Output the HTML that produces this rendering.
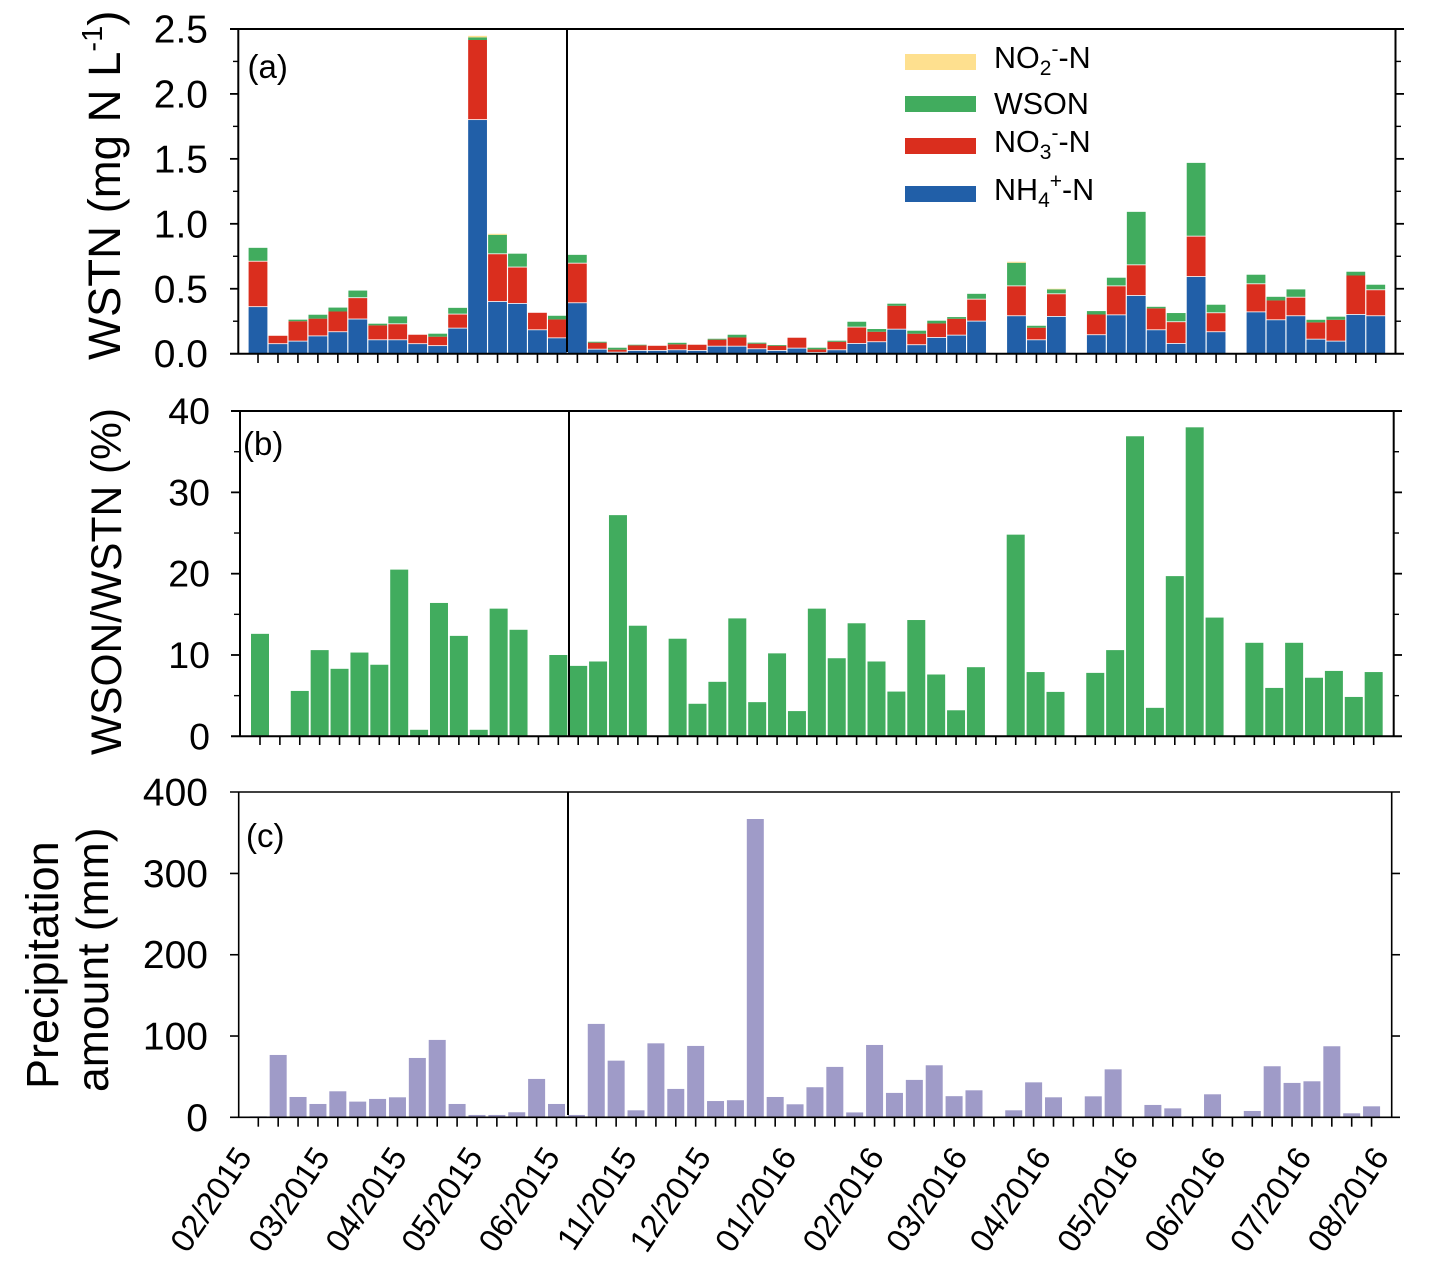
<!DOCTYPE html>
<html lang="en">
<head>
<meta charset="utf-8">
<title>WSTN, WSON/WSTN and precipitation</title>
<style>
html,body{margin:0;padding:0;background:#fff;}
svg{display:block;}
text{font-family:"Liberation Sans",sans-serif;fill:#000;}
</style>
</head>
<body>
<svg id="chart" xmlns="http://www.w3.org/2000/svg" width="1456" height="1278" viewBox="0 0 1456 1278">
  <g id="panel-a-marks"></g>
  <g id="panel-b-marks"></g>
  <g id="panel-c-marks"></g>
  <g id="axes"></g>

  <text transform="translate(120,360) rotate(-90)" font-size="45.5">WSTN (mg N L<tspan font-size="29" dy="-18">-1</tspan><tspan dy="18">)</tspan></text>
  <text transform="translate(121,755) rotate(-90)" font-size="42.5">WSON/WSTN (%)</text>
  <text transform="translate(58,1089) rotate(-90)" font-size="45">Precipitation</text>
  <text transform="translate(108,1092) rotate(-90)" font-size="44.5">amount (mm)</text>

  <text x="247.5" y="78" font-size="33">(a)</text>
  <text x="243" y="455" font-size="33">(b)</text>
  <text x="246" y="847" font-size="33">(c)</text>

  <g>
    <rect x="905" y="54" width="71" height="16" fill="#FEE08F"/>
    <text x="994" y="68" font-size="30.5">NO<tspan font-size="21" dy="7">2</tspan><tspan font-size="21" dy="-19">-</tspan><tspan dy="12">-N</tspan></text>
    <rect x="905" y="96" width="71" height="16" fill="#41AC5E"/>
    <text x="994" y="114" font-size="30.5">WSON</text>
    <rect x="905" y="138" width="71" height="16" fill="#DA2E1E"/>
    <text x="994" y="152" font-size="30.5">NO<tspan font-size="21" dy="7">3</tspan><tspan font-size="21" dy="-19">-</tspan><tspan dy="12">-N</tspan></text>
    <rect x="905" y="186" width="71" height="16" fill="#215FA8"/>
    <text x="994" y="200" font-size="30.5">NH<tspan font-size="21" dy="7">4</tspan><tspan font-size="21" dy="-19">+</tspan><tspan dy="12">-N</tspan></text>
  </g>
</svg>
<script>
// ---- data (one entry per sampling period) ----
const nh4 = [.365,.08,.1,.14,.172,.27,.11,.11,.08,.065,.2,1.805,.405,.39,.187,.125,.395,.038,.015,.028,.028,.033,.028,.061,.061,.041,.028,.046,.013,.033,.082,.095,.192,.072,.128,.146,.254,0,.295,.11,.29,0,.149,.302,.451,.187,.082,.597,.172,0,.325,.264,.295,.115,.1,.305,.295];
const no3 = [.35,.058,.15,.13,.153,.164,.108,.123,.066,.066,.108,.61,.367,.28,.128,.139,.305,.047,.016,.036,.033,.039,.041,.047,.064,.036,.033,.077,.02,.059,.126,.074,.177,.082,.105,.123,.169,0,.23,.09,.174,0,.153,.223,.236,.162,.167,.311,.146,0,.216,.146,.143,.126,.161,.297,.20];
const wson = [.10,0,.012,.03,.03,.052,.013,.054,0,.023,.045,.02,.143,.10,0,.028,.061,.007,.015,.005,0,.012,0,.007,.021,.008,.006,0,.013,.008,.038,.021,.016,.023,.021,.013,.038,0,.175,.015,.031,0,.026,.06,.405,.012,.064,.561,.059,0,.067,.028,.057,.02,.024,.029,.036];
const no2 = [0,0,0,0,0,0,0,0,0,0,0,.012,.008,0,0,0,0,0,0,0,0,0,0,0,0,0,0,0,0,0,0,0,0,0,0,0,0,0,.008,0,.005,0,0,0,0,0,0,0,0,0,0,0,0,0,0,0,0];
const ratio = [12.6,0,5.58,10.6,8.3,10.3,8.8,20.5,.8,16.4,12.35,.8,15.7,13.1,0,10,8.66,9.2,27.2,13.6,0,12,4,6.7,14.5,4.2,10.2,3.1,15.7,9.6,13.9,9.2,5.5,14.3,7.6,3.2,8.5,0,24.8,7.9,5.46,0,7.8,10.6,36.9,3.5,19.7,38,14.6,0,11.5,5.95,11.5,7.2,8.04,4.84,7.9];
const precip = [1.2,76.7,25,16.4,32,19.3,22.6,24.6,73,95.2,16.4,2.9,2.9,6.2,47.2,16.4,2.9,114.9,69.7,8.6,91,34.9,87.8,20,21,367,25,16,37,62,6,89,30,46,64,26,33.2,0,8.6,43,24.6,0,25.8,59,0,15.2,11,1.2,28.3,0,7.8,62.8,42.3,44.3,87.4,4.9,13.5];
const ticksA = ["0.0","0.5","1.0","1.5","2.0","2.5"];
const ticksB = ["0","10","20","30","40"];
const ticksC = ["0","100","200","300","400"];
const monthLabels = ["02/2015","03/2015","04/2015","05/2015","06/2015","11/2015","12/2015","01/2016","02/2016","03/2016","04/2016","05/2016","06/2016","07/2016","08/2016"];
const monthLabelSlots = [0,3.92,7.8,11.62,15.5,19.37,23.1,27.4,31.8,36,40.2,44.6,49,53.3,57.2];

// ---- axis functions ----
const NS = "http://www.w3.org/2000/svg";
const xA = i => 258 + i * 19.96;
const yA = v => 353.7 - v * 129.9;
const xB = i => 260 + i * 19.887;
const yB = v => 736.3 - v * 8.131;
const xC = i => 258.3 + i * 19.88;
const yC = v => 1117.3 - v * 0.8128;
const xLabel = s => 253 + s * 19.88;

const axes = document.getElementById("axes");
const mA = document.getElementById("panel-a-marks");
const mB = document.getElementById("panel-b-marks");
const mC = document.getElementById("panel-c-marks");

function mk(tag, parent, attrs) {
  const el = document.createElementNS(NS, tag);
  for (const k in attrs) el.setAttribute(k, attrs[k]);
  parent.appendChild(el);
  return el;
}
function seg(parent, x, w, v0, v1, yFn, fill, sep) {
  if (v1 <= v0) return null;
  const top = yFn(v1), bot = yFn(v0);
  return mk("rect", parent, {x: x, y: top + (sep ? 0.8 : 0), width: w, height: Math.max(0.6, bot - top - (sep ? 0.8 : 0)), fill: fill});
}

// panel a: stacked bars
nh4.forEach((v, i) => {
  const x = xA(i) - 9.4, w = 18.8;
  const a = v, b = a + no3[i], c = b + wson[i], d = c + no2[i];
  const r1 = seg(mA, x, w, 0, a, yA, "#215FA8", true);


  const r2 = seg(mA, x, w, a, b, yA, "#DA2E1E", wson[i] > 0.03);


  const r3 = seg(mA, x, w, b, c, yA, "#41AC5E", false);


  const r4 = seg(mA, x, w, c, d, yA, "#FEE08F", false);


});

// panel b: ratio bars
ratio.forEach((v, i) => {
  const r = seg(mB, xB(i) - 9, 18, 0, v, yB, "#41AC5E", false);


});

// panel c: precipitation bars
precip.forEach((v, i) => {
  const r = seg(mC, xC(i) - 8.5, 17, 0, v, yC, "#9F9BC8", false);


});

// frames and ticks
function line(x1, y1, x2, y2, sw, name) {
  const l = mk("line", axes, {x1: x1, y1: y1, x2: x2, y2: y2, stroke: "#000", "stroke-width": sw});
  
  
  return l;
}
function frame(left, right, top, base, outL, outR, sw, key, divider, divBottom) {
  line(outL, top, outR, top, sw, "top-axis-" + key);
  line(outL, base, outR, base, sw, "x-axis-" + key);
  line(left, top, left, base, sw, "y-axis-left-" + key);
  line(right, top, right, base, sw, "y-axis-right-" + key);
  line(divider, top, divider, divBottom, 2, "period-divider-" + key);
}
frame(238.3, 1395.5, 29, 353.7, 230, 1404, 2, "a", 567, 352);
frame(240, 1393.7, 411, 736.3, 231, 1402, 2, "b", 569, 736);
frame(238.7, 1391.7, 792, 1117.3, 230, 1400, 1.6, "c", 568, 1115);

for (let i = 0; i < nh4.length; i++) {
  line(xA(i), 354, xA(i), 363, 1.6, "x-tick-a");
  line(xB(i), 736, xB(i), 745, 1.6, "x-tick-b");
  line(xC(i), 1117, xC(i), 1126.7, 1.6, "x-tick-c");
}

function yLabel(t, x, y, size, name) {
  const el = mk("text", axes, {x: x, y: y, "font-size": size, "text-anchor": "end"});
  el.textContent = t;
  
  
}

ticksA.forEach((t, i) => {
  const y = yA(parseFloat(t));
  yLabel(t, 208, y + 13.5, 39, "y-tick-label-a");
  if (i > 0 && i < ticksA.length - 1) {
    line(230, y, 238, y, 1.8, "y-tick-a");
    line(1395, y, 1404, y, 1.8, "y-tick-right-a");
  }
  if (i < ticksA.length - 1) {
    const ym = yA(parseFloat(t) + 0.25);
    line(233, ym, 238, ym, 1.4, "y-minor-tick-a");
    line(1395, ym, 1401, ym, 1.4, "y-minor-tick-right-a");
  }
});
ticksB.forEach((t, i) => {
  const y = yB(parseFloat(t));
  yLabel(t, 210, y + 13, 37.5, "y-tick-label-b");
  if (i > 0 && i < ticksB.length - 1) {
    line(231, y, 240, y, 1.8, "y-tick-b");
    line(1394, y, 1402, y, 1.8, "y-tick-right-b");
  }
  if (i < ticksB.length - 1) {
    const ym = yB(parseFloat(t) + 5);
    line(234, ym, 240, ym, 1.4, "y-minor-tick-b");
    line(1394, ym, 1399, ym, 1.4, "y-minor-tick-right-b");
  }
});
ticksC.forEach((t, i) => {
  const y = yC(parseFloat(t));
  yLabel(t, 208, y + 13.5, 39, "y-tick-label-c");
  if (i > 0 && i < ticksC.length - 1) {
    line(230, y, 239, y, 1.6, "y-tick-c");
    line(1392, y, 1400, y, 1.6, "y-tick-right-c");
  }
});

monthLabels.forEach((t, i) => {
  const x = xLabel(monthLabelSlots[i]);
  const el = mk("text", axes, {transform: "translate(" + x + ",1157) rotate(-56)", "font-size": 32.5, "text-anchor": "end"});
  el.textContent = t;
  
  
});
</script>
</body>
</html>
